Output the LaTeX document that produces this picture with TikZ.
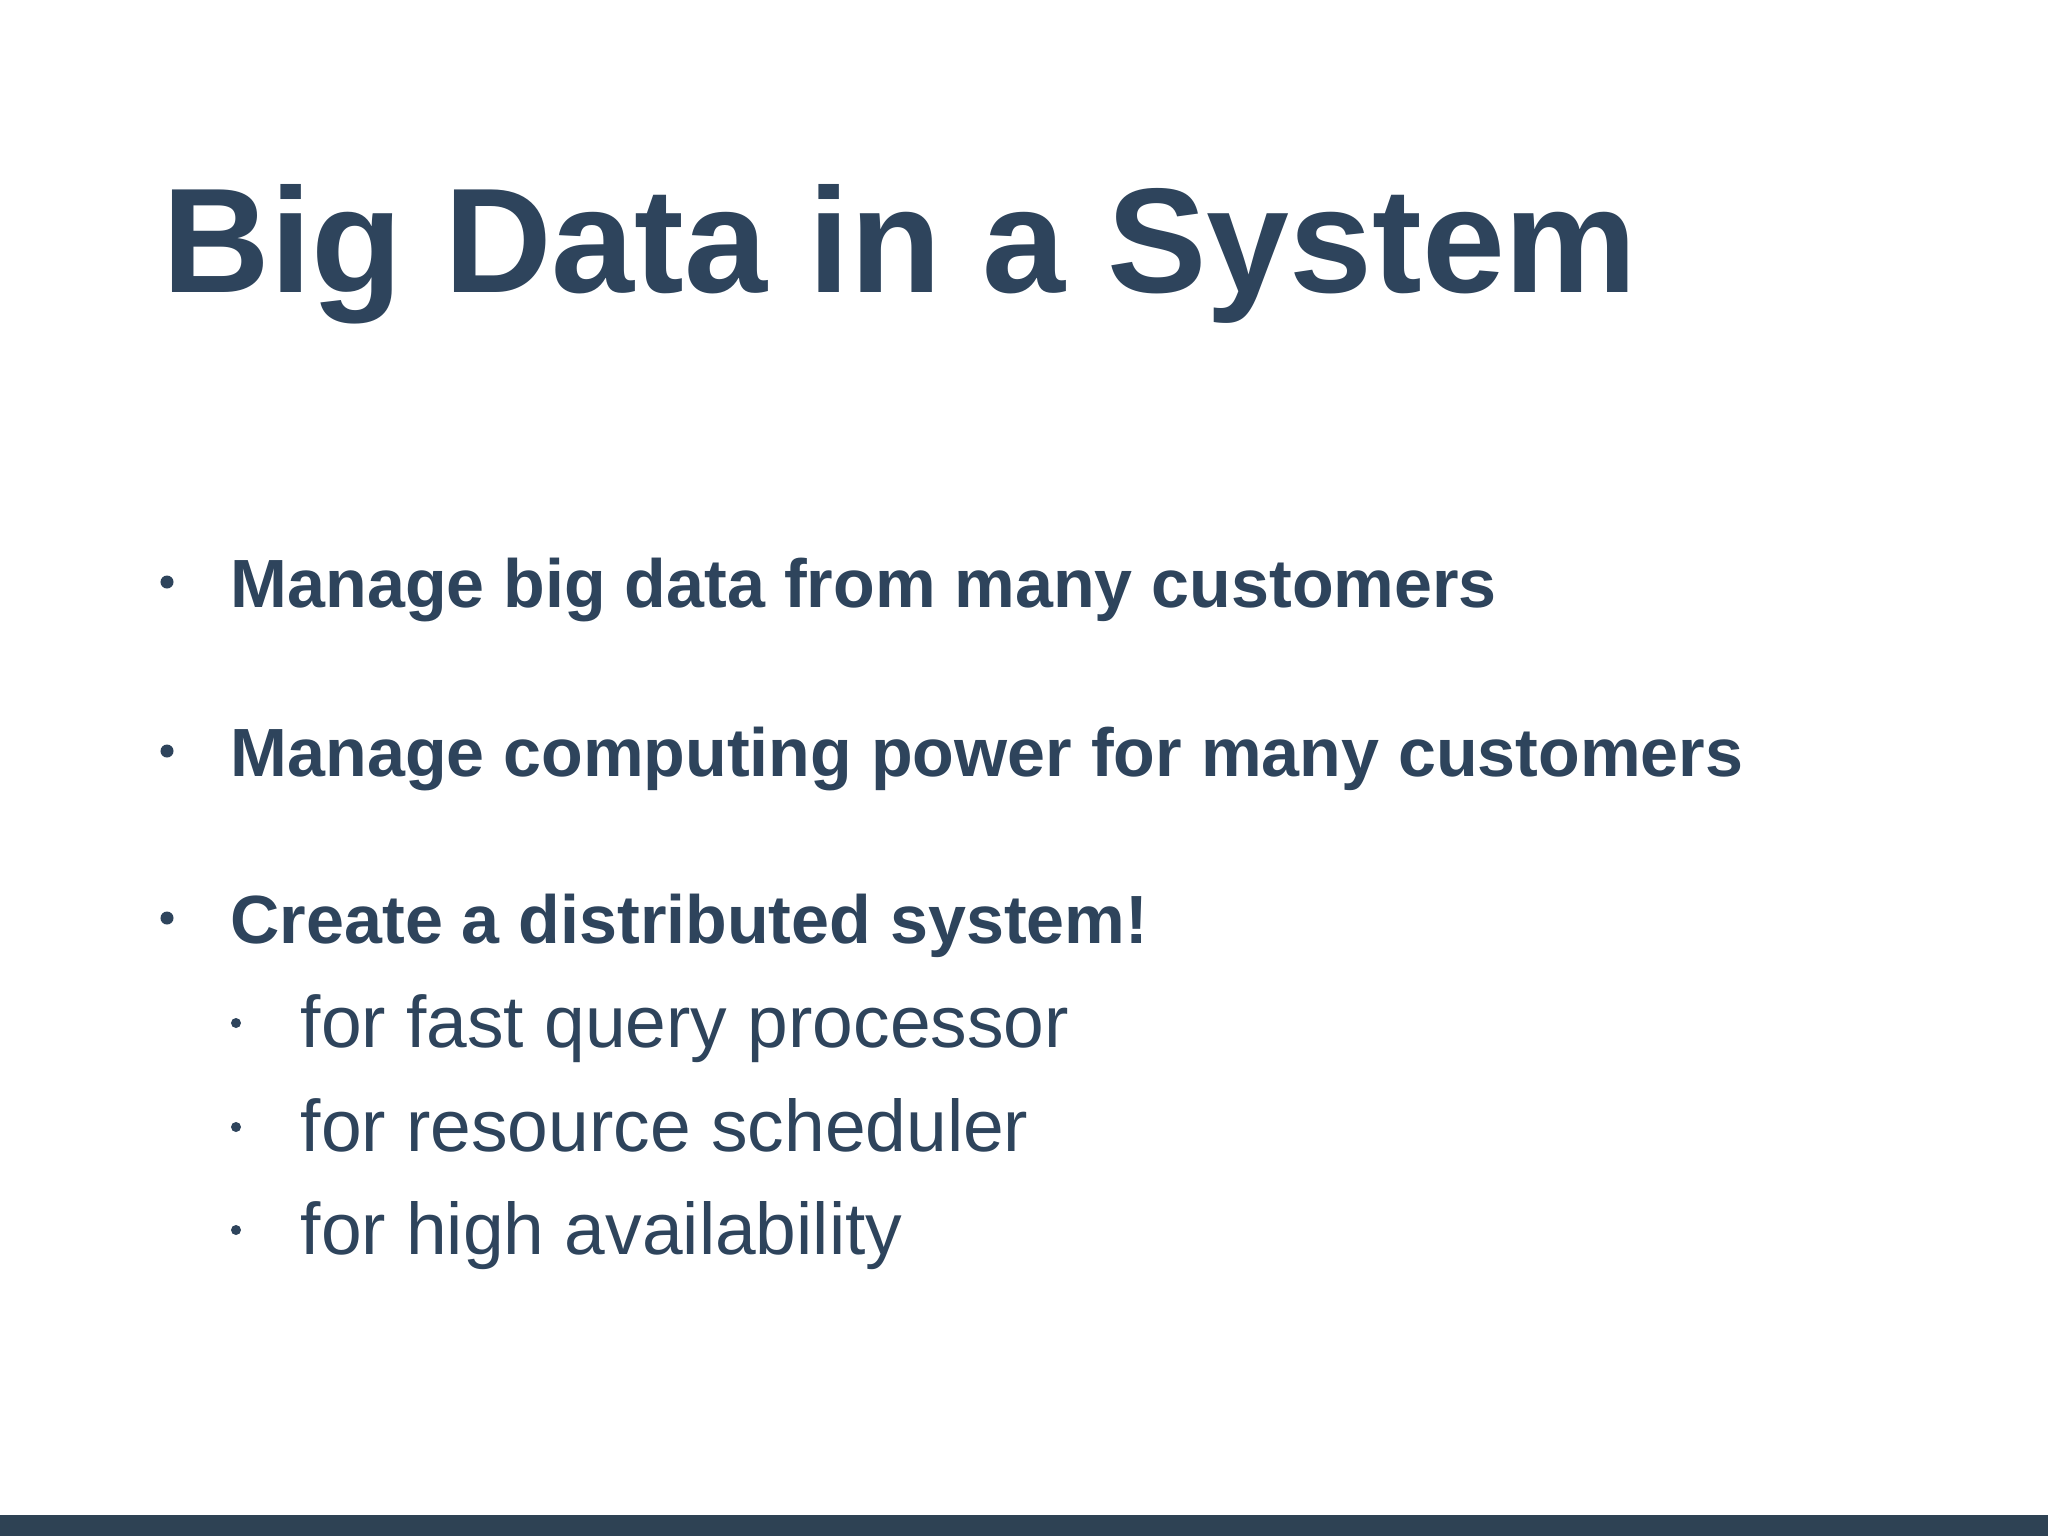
\documentclass[tikz,border=0pt]{standalone}
\usepackage{fontspec}
\setmainfont{Liberation Sans}
\definecolor{ink}{HTML}{2E445C}
\definecolor{bar}{HTML}{2E4254}
\begin{document}
\begin{tikzpicture}[x=0.01cm,y=-0.01cm,
  txt/.style={anchor=base west,inner sep=0,text=ink},
  lvl1/.style={txt,font=\fontsize{19.4pt}{24pt}\selectfont\bfseries},
  lvl2/.style={txt,font=\fontsize{20.8pt}{26pt}\selectfont},
  dot/.style={circle,fill=ink,inner sep=0}]
\useasboundingbox[fill=white] (0,0) rectangle (2048,1536);
\fill[bar] (0,1515) rectangle (2048,1536);
\node[txt,font=\fontsize{42.4pt}{50pt}\selectfont\bfseries] (title) at (162,292) {Big Data in a System};
\node[lvl1] (b1) at (230,607) {Manage big data from many customers};
\node[lvl1] (b2) at (230,776) {Manage computing power for many customers};
\node[lvl1] (b3) at (230,943) {Create a distributed system!};
\node[lvl2] (s1) at (300,1047) {for fast query processor};
\node[lvl2] (s2) at (300,1151) {for resource scheduler};
\node[lvl2] (s3) at (300,1254) {for high availability};
\foreach \y in {582,751,918} \node[dot,minimum size=0.13cm] at (167,\y) {};
\foreach \y in {1023,1127,1230} \node[dot,minimum size=0.10cm] at (236,\y) {};
\end{tikzpicture}
\end{document}
